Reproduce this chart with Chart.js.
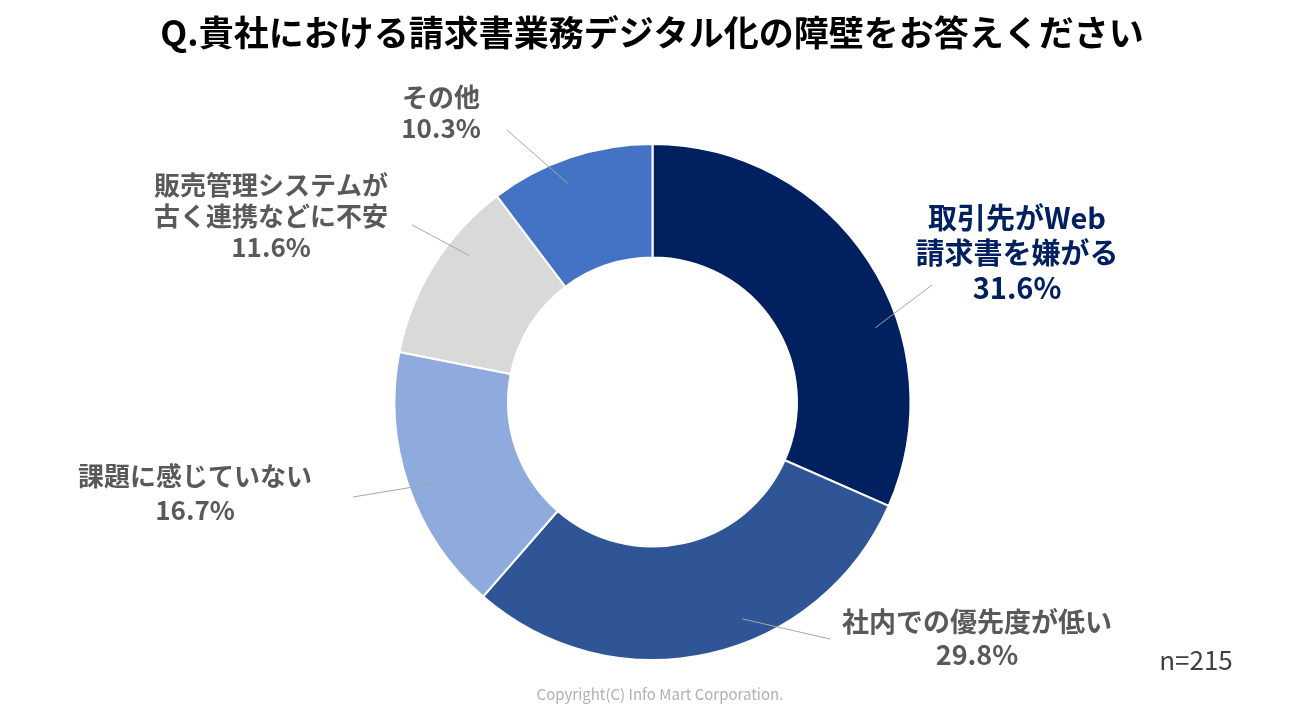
<!DOCTYPE html>
<html lang="ja">
<head>
<meta charset="utf-8">
<title>請求書業務デジタル化の障壁</title>
<script src="https://cdn.jsdelivr.net/npm/chart.js"></script>
<style>
  html, body { margin: 0; padding: 0; background: #fff; }
  #wrap { position: relative; width: 1289px; height: 714px; }
</style>
</head>
<body>
<div id="wrap"><canvas id="barrier"></canvas></div>
<script>
// data
const titleText = "Q.貴社における請求書業務デジタル化の障壁をお答えください";
const categories = [
  ["取引先がWeb", "請求書を嫌がる"],
  ["社内での優先度が低い"],
  ["課題に感じていない"],
  ["販売管理システムが", "古く連携などに不安"],
  ["その他"]
];
const shares = [31.6, 29.8, 16.7, 11.6, 10.3];
const sampleNote = "n=215";
const copyrightNote = "Copyright(C) Info Mart Corporation.";

const sliceColors = ["#002060", "#2F5597", "#8FAADC", "#D9D9D9", "#4472C4"];

// label placement: centre x, first line y, line height, font size, colour,
// leader outer end, and a small angle shift for the inner end (degrees)
const labelLayout = [
  { x: 1017, y: 218, lh: 35, size: 29, color: "#002060", end: [932, 285], shift: 14.7 },
  { x: 977,  y: 622, lh: 33, size: 27, color: "#595959", end: [830, 639], shift: -9.9 },
  { x: 195,  y: 476, lh: 34, size: 26, color: "#595959", end: [353, 497], shift: -1.5 },
  { x: 271,  y: 185, lh: 31, size: 26, color: "#595959", end: [412, 225], shift: 6.6 },
  { x: 441,  y: 97,  lh: 31, size: 26, color: "#595959", end: [507, 130], shift: -2.7 }
];

const FONT = '"Noto Sans CJK JP", "Noto Sans", sans-serif';

const labelPlugin = {
  id: "sliceLabels",
  afterDraw(chart) {
    const ctx = chart.ctx;
    const arcs = chart.getDatasetMeta(0).data;
    ctx.save();
    ctx.textAlign = "center";
    ctx.textBaseline = "middle";

    // title
    ctx.fillStyle = "#000";
    ctx.font = "bold 35px " + FONT;
    ctx.fillText(titleText, 652, 33);

    arcs.forEach((arc, i) => {
      const lay = labelLayout[i];
      const { x, y, startAngle, endAngle, outerRadius } = arc.getProps(["x", "y", "startAngle", "endAngle", "outerRadius"], true);
      const a = (startAngle + endAngle) / 2 + lay.shift * Math.PI / 180;
      const r = outerRadius * 0.91;
      ctx.strokeStyle = "#A6A6A6";
      ctx.lineWidth = 1;
      ctx.beginPath();
      ctx.moveTo(x + r * Math.cos(a), y + r * Math.sin(a));
      ctx.lineTo(lay.end[0], lay.end[1]);
      ctx.stroke();

      const lines = categories[i].concat([shares[i].toFixed(1) + "%"]);
      ctx.fillStyle = lay.color;
      ctx.font = "bold " + lay.size + "px " + FONT;
      lines.forEach((t, k) => ctx.fillText(t, lay.x, lay.y + k * lay.lh));
    });

    ctx.fillStyle = "#404040";
    ctx.font = "26px " + FONT;
    ctx.fillText(sampleNote, 1196, 660);

    ctx.fillStyle = "#B0B0B0";
    ctx.font = "15px " + FONT;
    ctx.fillText(copyrightNote, 660, 694);
    ctx.restore();
  }
};

new Chart(document.getElementById("barrier"), {
  type: "doughnut",
  data: {
    labels: categories.map(c => c.join("")),
    datasets: [{
      data: shares,
      backgroundColor: sliceColors,
      borderColor: "#ffffff",
      borderWidth: 2
    }]
  },
  options: {
    responsive: true,
    maintainAspectRatio: false,
    animation: false,
    cutout: "56%",
    layout: { padding: { top: 143, bottom: 53, left: 393, right: 377 } },
    plugins: { legend: { display: false }, tooltip: { enabled: false } }
  },
  plugins: [labelPlugin]
});
</script>
</body>
</html>
